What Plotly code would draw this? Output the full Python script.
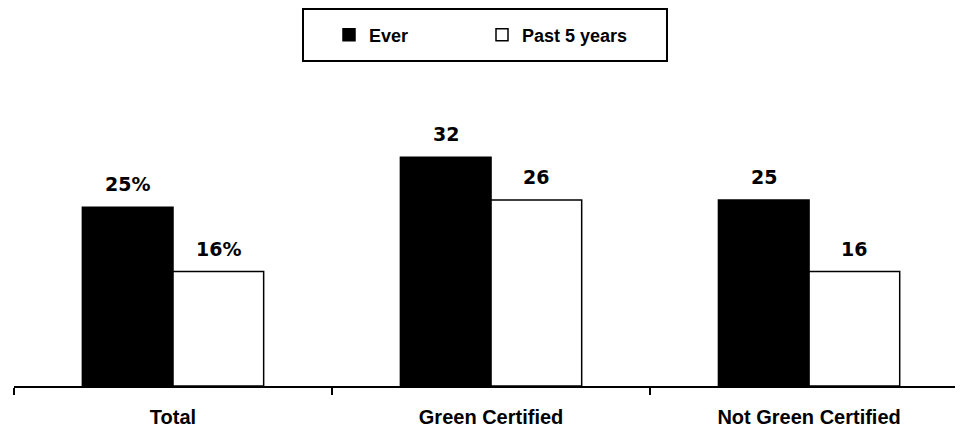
import plotly.graph_objects as go

categories = ["Total", "Green Certified", "Not Green Certified"]
ever_values = [25, 32, 26]
past5_values = [16, 26, 16]
ever_labels = ["25%", "32", "25"]
past5_labels = ["16%", "26", "16"]
series_names = ["Ever", "Past 5 years"]

OFF = 8  # default page body margin
W, H = 963 - OFF, 433 - OFF
ML, MR, MT, MB = 14 - OFF, 0, 100 - OFF, 47
BARGAP = 0.43
plot_w = W - ML - MR
plot_h = H - MT - MB
cat_px = plot_w / 2.984
bar_px = cat_px * (1 - BARGAP) / 2

fig = go.Figure()
fig.add_trace(go.Bar(
    x=categories, y=ever_values, name="<b>%s</b>" % series_names[0],
    marker=dict(color="black", line=dict(color="black", width=1.5)),
))
fig.add_trace(go.Bar(
    x=categories, y=past5_values, name="<b>%s</b>" % series_names[1],
    marker=dict(color="white", line=dict(color="black", width=1.5)),
))

label_font = dict(family="DejaVu Sans", size=19, color="black")
annotations = []
for cat, v, t in zip(categories, ever_values, ever_labels):
    annotations.append(dict(x=cat, y=v, text="<b>%s</b>" % t, showarrow=False,
                            xref="x", yref="y", yanchor="bottom",
                            xshift=-bar_px / 2, yshift=10, font=label_font))
for cat, v, t in zip(categories, past5_values, past5_labels):
    annotations.append(dict(x=cat, y=v, text="<b>%s</b>" % t, showarrow=False,
                            xref="x", yref="y", yanchor="bottom",
                            xshift=bar_px / 2, yshift=10, font=label_font))

# window-pixel -> paper coordinates
def px_x(p):
    return (p - OFF - ML) / plot_w

def px_y(p):
    return (H - MB - (p - OFF)) / plot_h

fig.update_layout(
    width=W, height=H,
    margin=dict(l=ML, r=MR, t=MT, b=MB, autoexpand=False),
    paper_bgcolor="white", plot_bgcolor="white",
    barmode="group", bargap=BARGAP, bargroupgap=0,
    annotations=annotations,
    showlegend=True,
    legend=dict(
        orientation="h", x=px_x(329), xanchor="left", y=px_y(35), yanchor="middle",
        font=dict(family="Liberation Sans, Arial", size=18, color="black"),
        entrywidth=108, entrywidthmode="pixels",
        bgcolor="rgba(0,0,0,0)", borderwidth=0,
    ),
    shapes=[dict(type="rect", xref="paper", yref="paper",
                 x0=px_x(303), x1=px_x(667), y0=px_y(61), y1=px_y(9),
                 line=dict(color="black", width=2), fillcolor="rgba(0,0,0,0)")],
    xaxis=dict(
        type="category", range=[-0.5, 2.484],
        showline=True, linecolor="black", linewidth=1.5,
        ticks="outside", tickson="boundaries", ticklen=7, tickwidth=1.5, tickcolor="black",
        tickfont=dict(family="Liberation Sans, Arial", size=20, color="black"),
        ticklabelstandoff=12,
        showgrid=False, zeroline=False,
        tickprefix="<b>", ticksuffix="</b>",
    ),
    yaxis=dict(range=[0, 40], visible=False, showgrid=False, zeroline=False),
)

fig.write_html("out.html")
